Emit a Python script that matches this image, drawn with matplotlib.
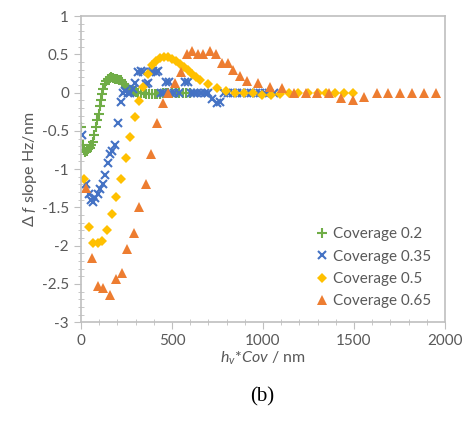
import matplotlib.pyplot as plt
from matplotlib.ticker import MultipleLocator

plt.rcParams['font.family'] = ['Lato', 'DejaVu Sans']
plt.rcParams['mathtext.fontset'] = 'custom'
plt.rcParams['mathtext.rm'] = 'Lato'
plt.rcParams['mathtext.it'] = 'Lato:italic'

# Coverage 0.2
x_02 = [3, 10, 17, 25, 33, 41, 50, 58, 66, 74, 82, 90, 98, 105, 112, 118, 124,
        132, 140, 148, 158, 168, 178, 188, 198, 208, 218, 228, 238, 248, 258,
        268, 278, 290, 302, 315, 330, 345, 360, 375, 390, 405, 420, 435, 450,
        465, 480, 500, 520, 540, 560, 580, 600]
y_02 = [-0.45, -0.68, -0.75, -0.77, -0.76, -0.74, -0.72, -0.69, -0.64, -0.56,
        -0.45, -0.36, -0.28, -0.18, -0.10, -0.02, 0.05, 0.11, 0.15, 0.18, 0.19,
        0.20, 0.19, 0.18, 0.18, 0.17, 0.16, 0.14, 0.11, 0.08, 0.06, 0.04, 0.03,
        0.02, 0.01, 0.0, -0.01, -0.01, -0.02, -0.02, -0.02, -0.02, -0.02, -0.02,
        -0.01, -0.01, -0.01, 0.0, 0.0, 0.0, 0.0, 0.0, 0.0]

# Coverage 0.35
x_035 = [5, 30, 45, 55, 66, 78, 92, 105, 120, 132, 148, 162, 172, 187, 203, 222,
         232, 244, 256, 268, 284, 298, 314, 328, 342, 356, 370, 384, 398, 412,
         426, 440, 454, 468, 482, 496, 510, 540, 570, 590, 605, 620, 640, 660,
         680, 700, 720, 745, 765, 785, 810, 835, 860, 885, 910, 935, 960, 985,
         1010, 1035, 1060]
y_035 = [-0.55, -1.20, -1.33, -1.40, -1.43, -1.38, -1.32, -1.26, -1.19, -1.08,
         -0.92, -0.80, -0.76, -0.69, -0.40, -0.12, 0.0, 0.02, 0.0, 0.0, 0.05,
         0.12, 0.27, 0.28, 0.27, 0.11, 0.12, 0.27, 0.28, 0.27, 0.28, 0.0, 0.0,
         0.14, 0.14, 0.0, 0.0, 0.0, 0.14, 0.14, 0.0, 0.0, 0.0, 0.0, 0.0, 0.0,
         -0.08, -0.14, -0.12, 0.0, 0.0, 0.0, 0.0, 0.0, 0.0, 0.0, 0.0, 0.0, 0.0,
         0.0, 0.0]

# Coverage 0.5
x_05 = [16, 44, 66, 93, 115, 143, 170, 192, 220, 247, 269, 297, 319, 341, 368,
        390, 412, 435, 458, 480, 502, 524, 546, 568, 590, 612, 634, 656, 698,
        747, 797, 846, 895, 945, 995, 1045, 1095, 1145, 1195, 1245, 1300, 1345,
        1395, 1445, 1495]
y_05 = [-1.13, -1.76, -1.96, -1.97, -1.94, -1.80, -1.59, -1.37, -1.13, -0.86,
        -0.58, -0.32, -0.11, 0.08, 0.24, 0.36, 0.42, 0.45, 0.46, 0.46, 0.44,
        0.41, 0.38, 0.34, 0.29, 0.24, 0.20, 0.16, 0.11, 0.06, 0.02, 0.0, 0.0,
        0.0, -0.03, -0.03, -0.02, 0.0, 0.0, -0.01, 0.0, 0.0, 0.0, 0.0, 0.0]

# Coverage 0.65
x_065 = [27, 60, 93, 121, 159, 192, 225, 253, 291, 319, 357, 385, 417, 450, 480,
         516, 549, 582, 610, 643, 670, 709, 741, 775, 808, 835, 874, 912, 973,
         1038, 1104, 1170, 1236, 1297, 1363, 1429, 1495, 1555, 1626, 1687, 1753,
         1819, 1885, 1951]
y_065 = [-1.24, -2.16, -2.53, -2.56, -2.65, -2.44, -2.36, -2.04, -1.84, -1.49,
         -1.20, -0.80, -0.40, -0.14, 0.0, 0.12, 0.27, 0.51, 0.55, 0.51, 0.51,
         0.55, 0.51, 0.39, 0.39, 0.30, 0.22, 0.15, 0.12, 0.07, 0.06, 0.0, 0.0,
         0.0, 0.0, -0.07, -0.09, -0.06, 0.0, 0.0, 0.0, 0.0, 0.0, 0.0]

fig = plt.figure(figsize=(4.65, 4.25), dpi=100)
ax = fig.add_axes([0.174, 0.242, 0.783, 0.720])

ax.plot(x_02, y_02, '+', color='#70AD47', ms=6.5, mew=1.5, label='Coverage 0.2')
ax.plot(x_035, y_035, 'x', color='#4472C4', ms=6, mew=1.5, label='Coverage 0.35')
ax.plot(x_05, y_05, 'D', color='#FFC000', ms=5, mew=0, label='Coverage 0.5')
ax.plot(x_065, y_065, '^', color='#ED7D31', ms=7, mew=0, label='Coverage 0.65')

ax.set_xlim(0, 2000)
ax.set_ylim(-3, 1)
ax.xaxis.set_major_locator(MultipleLocator(500))
ax.xaxis.set_minor_locator(MultipleLocator(100))
ax.yaxis.set_minor_locator(MultipleLocator(0.1))
ax.set_yticks([1, 0.5, 0, -0.5, -1, -1.5, -2, -2.5, -3])
ax.set_yticklabels(['1', '0.5', '0', '-0.5', '-1', '-1.5', '-2', '-2.5', '-3'])

for s in ax.spines.values():
    s.set_color('#BFBFBF')
    s.set_linewidth(1.2)
ax.tick_params(which='major', direction='out', length=5, color='#BFBFBF',
               labelsize=11, labelcolor='#595959', top=False, right=False)
ax.tick_params(which='minor', direction='inout', length=4, color='#BFBFBF',
               top=False, right=False)

ax.set_ylabel(r'Δ $\it{f}$ slope Hz/nm', color='#595959', fontsize=11.5, labelpad=2)
ax.set_xlabel(r'$h_v$*$Cov$ / nm', color='#595959', fontsize=11.5, labelpad=1)

ax.legend(loc='lower right', frameon=False, fontsize=11, handletextpad=0.1,
          handlelength=1.2, labelspacing=0.55, labelcolor='#595959',
          bbox_to_anchor=(1.0, 0.0))

fig.text(0.563, 0.055, '(b)', fontsize=15, family='Liberation Serif', ha='center')

fig.savefig('out.png', dpi=100)
